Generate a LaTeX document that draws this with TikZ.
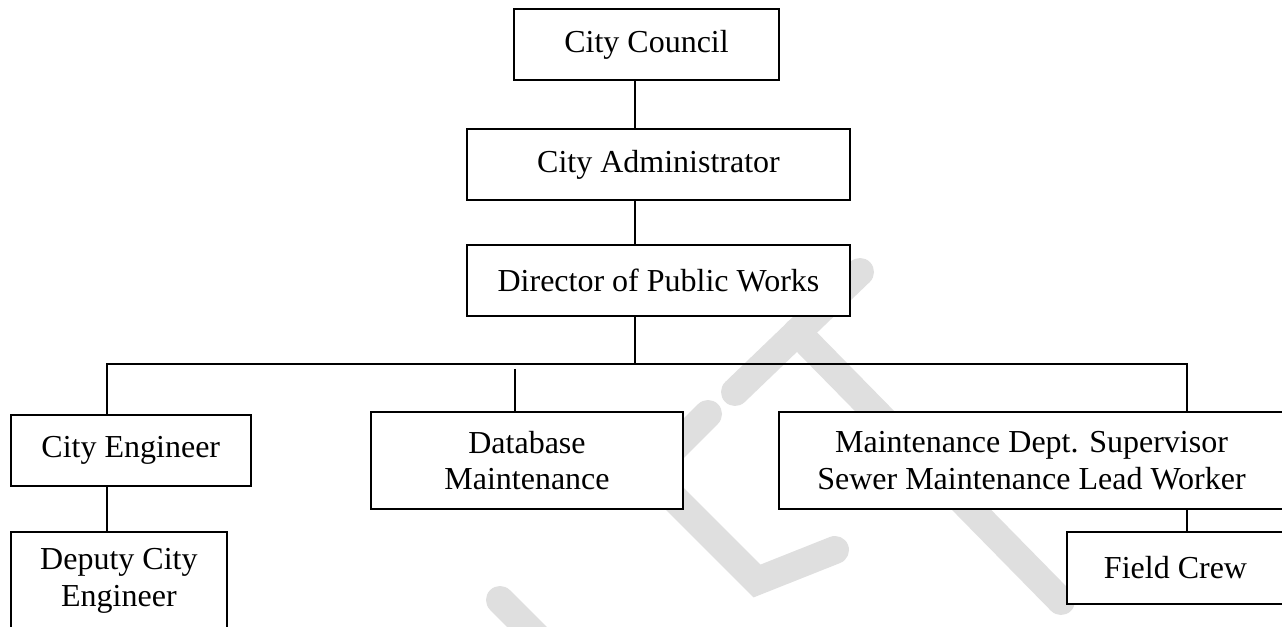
\documentclass[tikz,border=0pt]{standalone}
\usepackage{fontspec}
\setmainfont{Liberation Serif}
\begin{document}
\begin{tikzpicture}[x=0.75pt,y=-0.75pt,
  box/.style={draw=black, line width=1.4pt, fill=white, align=center, inner sep=0pt,
              font=\fontsize{24}{27.6}\selectfont},
  link/.style={draw=black, line width=1.4pt},
  wm/.style={draw=gray!25, line width=21pt, line cap=round, line join=miter}]
\useasboundingbox (0,0) rectangle (1282,627);
% watermark
\draw[wm] (735,392) -- (860,272);
\draw[wm] (797,332) -- (1061,601);
\draw[wm] (708,414) -- (649,473) -- (757,581) -- (835,550);
\draw[wm] (500,600) -- (560,660);
% named points
\coordinate (spine) at (635,0);
\coordinate (busL) at (107,364);
\coordinate (busR) at (1187,364);
\coordinate (dbtop) at (515,369);
% nodes
\node[box, minimum width=198.75pt, minimum height=53.25pt] (council) at (646.5,44.5) {City Council};
\node[box, minimum width=287.25pt, minimum height=53.25pt] (admin) at (658.5,164.5) {City Administrator};
\node[box, minimum width=287.25pt, minimum height=53.25pt] (director) at (658.5,280.5) {Director of Public Works};
\node[box, minimum width=180pt, minimum height=53.25pt] (cityeng) at (130.8,450.5) {City Engineer};
\node[box, minimum width=234pt, minimum height=72.75pt] (database) at (527,460.5) {Database\\Maintenance};
\node[box, minimum width=378.75pt, minimum height=72.75pt] (maint) at (1031.5,460.5) {Maintenance Dept. Supervisor\\Sewer Maintenance Lead Worker};
\node[box, minimum width=162.75pt, minimum height=54pt] (field) at (1175.5,568) {Field Crew};
\node[box, minimum width=162.2pt, minimum height=72.75pt] (deputy) at (118.9,580.5) {Deputy City\\Engineer};
% connectors
\draw[link] (council.south -| spine) -- (admin.north -| spine);
\draw[link] (admin.south -| spine) -- (director.north -| spine);
\draw[link] (director.south -| spine) -- (spine |- busL);
\draw[link] (cityeng.north -| busL) -- (busL) -- (busR) -- (maint.north -| busR);
\draw[link] (dbtop) -- (database.north -| dbtop);
\draw[link] (maint.south -| busR) -- (field.north -| busR);
\draw[link] (cityeng.south -| busL) -- (deputy.north -| busL);
\end{tikzpicture}
\end{document}
